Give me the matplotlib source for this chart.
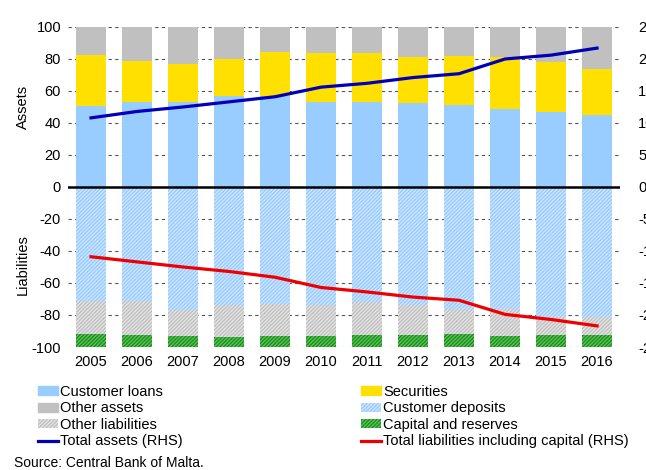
import matplotlib
matplotlib.use("Agg")
import matplotlib.pyplot as plt
import matplotlib.patches as mpatches
from matplotlib.lines import Line2D
import numpy as np

plt.rcParams['font.family'] = ['Liberation Sans', 'DejaVu Sans']
plt.rcParams['hatch.linewidth'] = 1.0
plt.rcParams['axes.unicode_minus'] = False

# données (pour cent / milliards EUR)
years = ['2005', '2006', '2007', '2008', '2009', '2010', '2011', '2012', '2013', '2014', '2015', '2016']
customer_loans = [50.6, 53.3, 53.3, 56.9, 56.6, 53.3, 53.3, 52.5, 51.3, 48.5, 47.0, 45.0]
securities = [31.9, 25.4, 23.7, 22.9, 28.0, 30.2, 30.2, 29.0, 30.6, 32.5, 31.3, 28.8]
other_assets = [17.5, 21.3, 23.0, 20.2, 15.4, 16.5, 16.5, 18.5, 18.1, 19.0, 21.7, 26.2]
customer_deposits = [-71.0, -71.5, -77.0, -73.5, -73.0, -73.5, -72.0, -73.5, -76.0, -76.5, -81.0, -81.0]
other_liabilities = [-21.0, -21.0, -16.0, -20.0, -19.9, -19.5, -20.5, -19.0, -16.0, -16.5, -11.5, -11.5]
capital_reserves = [-8.0, -7.5, -7.0, -6.5, -7.1, -7.0, -7.5, -7.5, -8.0, -7.0, -7.5, -7.5]
total_assets = [10.8, 11.8, 12.5, 13.3, 14.1, 15.6, 16.2, 17.1, 17.7, 20.0, 20.6, 21.7]
total_liabilities = [-10.9, -11.7, -12.5, -13.2, -14.1, -15.7, -16.4, -17.2, -17.7, -19.9, -20.7, -21.7]

c_loans = '#99ccff'
c_sec = '#ffe000'
c_other = '#c0c0c0'
fs = 10.5
hatch = '/' * 9

fig = plt.figure(figsize=(6.46, 4.70), dpi=100)
ax = fig.add_axes([0.1053, 0.2617, 0.8545, 0.6809])
x = np.arange(len(years))
w = 0.65

ax.bar(x, customer_loans, w, color=c_loans, zorder=2)
ax.bar(x, securities, w, bottom=customer_loans, color=c_sec, zorder=2)
ax.bar(x, other_assets, w, bottom=np.add(customer_loans, securities), color=c_other, zorder=2)

ax.bar(x, customer_deposits, w, color='#cfe6ff', edgecolor='#99ccff', hatch=hatch, linewidth=0, zorder=2)
ax.bar(x, other_liabilities, w, bottom=customer_deposits, color='#e6e6e6', edgecolor='#c0c0c0',
       hatch=hatch, linewidth=0, zorder=2)
ax.bar(x, capital_reserves, w, bottom=np.add(customer_deposits, other_liabilities), color='#5cc85c',
       edgecolor='#1e8c1e', hatch=hatch, linewidth=0, zorder=2)

ax.axhline(0, color='black', lw=1.8, zorder=4)
ax.set_xlim(-0.5, len(years) - 0.5)
ax.set_ylim(-100, 100)
ax.set_yticks(range(-100, 101, 20))
ax.set_xticks(x)
ax.set_xticklabels(years)
ax.yaxis.grid(True, linestyle=(0, (3, 3)), color='#555555', lw=0.8, zorder=0)
ax.set_axisbelow(True)
for s in ax.spines.values():
    s.set_visible(False)
ax.tick_params(axis='both', length=0, labelsize=fs, colors='black')
ax.tick_params(axis='y', pad=5)
ax.tick_params(axis='x', pad=6)

rhs = ax.twinx()
rhs.plot(x, total_assets, color='#0000bb', lw=2.3, zorder=5)
rhs.plot(x, total_liabilities, color='#ee0000', lw=2.3, zorder=5)
rhs.set_ylim(-25, 25)
rhs.set_yticks(range(-25, 26, 5))
rhs.set_yticklabels(['-25', '-20', '-15', '-10', '-5', '0', '5', '10', '15', '20', '25'])
for s in rhs.spines.values():
    s.set_visible(False)
rhs.tick_params(axis='y', length=0, labelsize=fs, pad=13)

fig.text(0.035, 1 - 107 / 470, 'Assets', rotation=90, fontsize=fs, ha='center', va='center')
fig.text(0.035, 1 - 265 / 470, 'Liabilities', rotation=90, fontsize=fs, ha='center', va='center')

h_loans = mpatches.Patch(color=c_loans, label='Customer loans')
h_other = mpatches.Patch(color=c_other, label='Other assets')
h_oliab = mpatches.Patch(facecolor='#e6e6e6', edgecolor='#c0c0c0', hatch=hatch, lw=0, label='Other liabilities')
h_ta = Line2D([], [], color='#0000bb', lw=2.3, label='Total assets (RHS)')
h_sec = mpatches.Patch(color=c_sec, label='Securities')
h_dep = mpatches.Patch(facecolor='#cfe6ff', edgecolor='#99ccff', hatch=hatch, lw=0, label='Customer deposits')
h_cap = mpatches.Patch(facecolor='#5cc85c', edgecolor='#1e8c1e', hatch=hatch, lw=0, label='Capital and reserves')
h_tl = Line2D([], [], color='#ee0000', lw=2.3, label='Total liabilities including capital (RHS)')

leg_kw = dict(loc='upper left', frameon=False, fontsize=fs, handlelength=1.4, handleheight=0.6,
              handletextpad=0.1, labelspacing=0.17, borderpad=0, borderaxespad=0)
fig.legend(handles=[h_loans, h_other, h_oliab, h_ta], bbox_to_anchor=(38 / 646, 1 - 385 / 470), **leg_kw)
fig.legend(handles=[h_sec, h_dep, h_cap, h_tl], bbox_to_anchor=(361 / 646, 1 - 385 / 470), **leg_kw)

fig.text(14 / 646, 1 - 463 / 470, 'Source: Central Bank of Malta.', fontsize=10, va='center')

plt.savefig('out.png', dpi=100)
